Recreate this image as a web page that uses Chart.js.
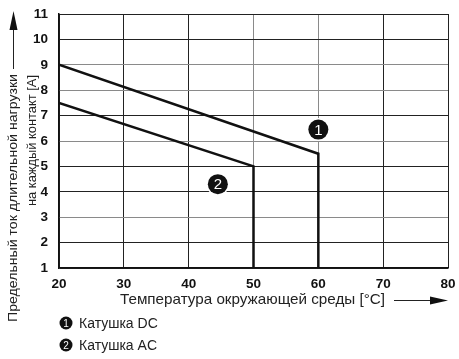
<!DOCTYPE html>
<html lang="ru">
<head>
    <meta charset="UTF-8">
    <title>Предельный ток</title>
    <script src="https://cdn.jsdelivr.net/npm/chart.js"></script>
    <style>
        body { margin: 0; padding: 0; background: #fff; }
        .chart-box { width: 459px; height: 359px; }
    </style>
</head>
<body>
    <div class="chart-box">
        <canvas id="curChart"></canvas>
    </div>

    <script>
        // curve data: temperature [°C] -> current [A]
        const dcTemp = [20, 60, 60];
        const dcCurrent = [9, 5.5, 1];
        const acTemp = [20, 50, 50];
        const acCurrent = [7.5, 5, 1];

        // numbered markers on the curves
        const markerLabels = ['1', '2'];
        const markerTemp = [60, 44.5];
        const markerCurrent = [6.45, 4.3];

        const xTicks = [20, 30, 40, 50, 60, 70, 80];
        const yTicks = [1, 2, 3, 4, 5, 6, 7, 8, 9, 10, 11];

        const xTitle = 'Температура окружающей среды [°C]';
        const yTitle = ['Предельный ток длительной нагрузки', 'на каждый контакт [A]'];
        const legendItems = ['Катушка DC', 'Катушка AC'];

        // some grid lines come out lighter in the original scan
        const greyX = [50, 60];
        const greyY = [3, 6, 8, 9];

        const toPoints = (xs, ys) => xs.map((x, i) => ({ x: x, y: ys[i] }));
        const FONT = '"Liberation Sans", Arial, sans-serif';

        function badge(ctx, x, y, r, txt, size) {
            ctx.beginPath();
            ctx.arc(x, y, r + 1.5, 0, Math.PI * 2);
            ctx.fillStyle = '#fff';
            ctx.fill();
            ctx.beginPath();
            ctx.arc(x, y, r, 0, Math.PI * 2);
            ctx.fillStyle = '#111';
            ctx.fill();
            ctx.fillStyle = '#fff';
            ctx.font = size + 'px ' + FONT;
            ctx.textAlign = 'center';
            ctx.textBaseline = 'middle';
            ctx.fillText(txt, x, y + 1);
        }

        // text squeezed/stretched to the width it has in the scan
        function fitText(ctx, txt, x, y, width) {
            const w = ctx.measureText(txt).width;
            ctx.save();
            ctx.translate(x, y);
            ctx.scale(width / w, 1);
            ctx.fillText(txt, 0, 0);
            ctx.restore();
        }

        const extras = {
            id: 'extras',
            afterDraw(chart) {
                const ctx = chart.ctx;
                const area = chart.chartArea;
                ctx.save();

                // marker numbers
                const meta = chart.getDatasetMeta(2);
                meta.data.forEach((pt, i) => {
                    badge(ctx, pt.x, pt.y, 10, markerLabels[i], 15);
                });

                // x title with arrow
                ctx.fillStyle = '#222';
                ctx.font = '14.5px ' + FONT;
                ctx.textAlign = 'left';
                ctx.textBaseline = 'middle';
                fitText(ctx, xTitle, 120, 300, 265);
                ctx.strokeStyle = '#222';
                ctx.lineWidth = 1;
                ctx.beginPath();
                ctx.moveTo(394, 300.5);
                ctx.lineTo(area.right - 10, 300.5);
                ctx.stroke();
                ctx.beginPath();
                ctx.moveTo(area.right, 300.5);
                ctx.lineTo(area.right - 18, 296.5);
                ctx.lineTo(area.right - 18, 304.5);
                ctx.closePath();
                ctx.fillStyle = '#111';
                ctx.fill();

                // y title, two rotated lines, ends aligned at the top
                ctx.save();
                ctx.rotate(-Math.PI / 2);
                ctx.fillStyle = '#222';
                ctx.font = '13.5px ' + FONT;
                ctx.textAlign = 'left';
                ctx.textBaseline = 'middle';
                fitText(ctx, yTitle[0], -322, 13, 248);
                ctx.font = '13px ' + FONT;
                fitText(ctx, yTitle[1], -206, 32, 131);
                ctx.restore();
                ctx.strokeStyle = '#222';
                ctx.beginPath();
                ctx.moveTo(13.5, 69);
                ctx.lineTo(13.5, 28);
                ctx.stroke();
                ctx.beginPath();
                ctx.moveTo(13.5, 11);
                ctx.lineTo(9.5, 30);
                ctx.lineTo(17.5, 30);
                ctx.closePath();
                ctx.fillStyle = '#111';
                ctx.fill();

                // legend below
                legendItems.forEach((txt, i) => {
                    const y = 323 + i * 22;
                    badge(ctx, 66, y, 6.5, markerLabels[i], 10);
                    ctx.fillStyle = '#222';
                    ctx.font = '14px ' + FONT;
                    ctx.textAlign = 'left';
                    ctx.textBaseline = 'middle';
                    ctx.fillText(txt, 79, y + 1);
                });

                ctx.restore();
            }
        };

        const lineStyle = {
            borderColor: '#111',
            borderWidth: 2.5,
            pointRadius: 0,
            showLine: true,
            fill: false,
            tension: 0
        };

        const ctx = document.getElementById('curChart').getContext('2d');
        new Chart(ctx, {
            type: 'scatter',
            data: {
                datasets: [
                    Object.assign({ label: legendItems[0], data: toPoints(dcTemp, dcCurrent) }, lineStyle),
                    Object.assign({ label: legendItems[1], data: toPoints(acTemp, acCurrent) }, lineStyle),
                    {
                        label: 'markers',
                        data: toPoints(markerTemp, markerCurrent),
                        pointRadius: 0,
                        showLine: false
                    }
                ]
            },
            options: {
                responsive: true,
                maintainAspectRatio: false,
                animation: false,
                layout: { padding: { top: 14, right: 11, left: 0, bottom: 0 } },
                scales: {
                    x: {
                        type: 'linear',
                        min: 20,
                        max: 80,
                        afterFit: s => { s.height = 91; s.paddingLeft = 0; s.paddingRight = 0; },
                        afterBuildTicks: s => { s.ticks = xTicks.map(v => ({ value: v })); },
                        grid: {
                            drawTicks: false,
                            lineWidth: 1,
                            color: c => greyX.includes(c.tick && c.tick.value) ? '#8a8a8a' : '#222'
                        },
                        border: { color: '#111', width: 1.5 },
                        ticks: {
                            padding: 8,
                            maxRotation: 0,
                            color: '#111',
                            font: { family: FONT, size: 13.5, weight: 'bold' }
                        }
                    },
                    y: {
                        min: 1,
                        max: 11,
                        afterFit: s => { s.width = 59; s.paddingTop = 0; s.paddingBottom = 0; },
                        afterBuildTicks: s => { s.ticks = yTicks.map(v => ({ value: v })); },
                        grid: {
                            drawTicks: false,
                            lineWidth: 1,
                            color: c => greyY.includes(c.tick && c.tick.value) ? '#8a8a8a' : '#222'
                        },
                        border: { color: '#111', width: 1.5 },
                        ticks: {
                            padding: 11,
                            color: '#111',
                            font: { family: FONT, size: 13.5, weight: 'bold' }
                        }
                    }
                },
                plugins: {
                    legend: { display: false },
                    tooltip: { enabled: false }
                }
            },
            plugins: [extras]
        });
    </script>
</body>
</html>
